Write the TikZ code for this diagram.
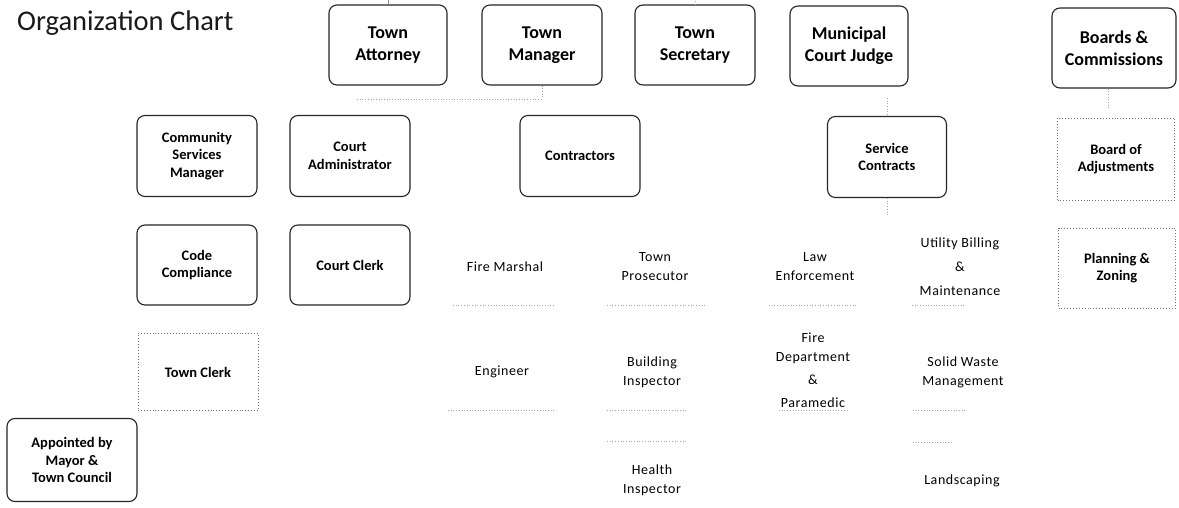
\documentclass[tikz,border=0pt]{standalone}
\usepackage{fontspec}
\setmainfont{Carlito}
\newfontfamily\itemfont[LetterSpace=4]{Carlito}
\begin{document}
\begin{tikzpicture}[x=1pt,y=-1pt,
  box/.style={draw=black!85, line width=1.1pt, rounded corners=8pt, inner sep=0pt, align=center, text=black},
  topbox/.style={box, minimum width=118pt, minimum height=80pt, font=\bfseries\fontsize{18}{22}\selectfont},
  midbox/.style={box, minimum width=120pt, minimum height=81pt, font=\bfseries\fontsize{14.5}{17.5}\selectfont},
  dotbox/.style={draw=black!55, dotted, line width=0.9pt, inner sep=0pt, align=center, minimum width=117pt, minimum height=80pt, font=\bfseries\fontsize{14.5}{17.5}\selectfont},
  item/.style={align=center, inner sep=0pt, minimum height=76pt, font=\itemfont\fontsize{14}{19}\selectfont},
  faint/.style={draw=black!35, dotted, line width=0.7pt},
  thinline/.style={draw=black!45, line width=0.6pt},
]
\useasboundingbox[fill=white] (0,0) rectangle (1179,508);

% title
\node[anchor=west, inner sep=0pt, font=\fontsize{28.5}{32}\selectfont, text=black!90] (title) at (17,23) {Organization Chart};

% top row
\node[topbox] (ta)  at (388,45) {Town\\Attorney};
\node[topbox, minimum width=120pt] (tm)  at (542,45) {Town\\Manager};
\node[topbox, minimum width=120pt] (ts)  at (695,45) {Town\\Secretary};
\node[topbox] (mcj) at (849,46) {Municipal\\Court Judge};
\node[topbox, minimum width=124pt] (bc)  at (1114,48) {Boards \&\\Commissions};

% second row
\node[midbox] (csm) at (197,156) {Community\\Services\\Manager};
\node[midbox] (ca)  at (350,156) {Court\\Administrator};
\node[midbox] (con) at (580,156) {Contractors};
\node[midbox, minimum width=119pt] (sc)  at (887,157) {Service\\Contracts};
\node[dotbox, minimum height=82pt] (boa) at (1116,159) {Board of\\Adjustments};

% third row
\node[midbox, minimum height=80pt] (cc)    at (197,265) {Code\\Compliance};
\node[midbox, minimum height=80pt] (clerk) at (350,265) {Court Clerk};
\node[item] (fm) at (505,267) {Fire Marshal};
\node[item] (tp) at (655,267) {Town\\Prosecutor};
\node[item] (le) at (815,267) {Law\\Enforcement};
\node[item] (ub) at (960,267) {Utility Billing\\[5pt]\&\\[5pt]Maintenance};
\node[dotbox] (pz) at (1117,268) {Planning \&\\Zoning};

% fourth row
\node[dotbox, minimum width=120pt, minimum height=77pt] (tc) at (198,372) {Town Clerk};
\node[item] (eng) at (502,372) {Engineer};
\node[item] (bi)  at (652,372) {Building\\Inspector};
\node[item, minimum height=80pt] (fd) at (813,370) {Fire\\Department\\[4pt]\&\\[4pt]Paramedic};
\node[item] (sw)  at (963,372) {Solid Waste\\Management};

% fifth row
\node[box, minimum width=130pt, minimum height=83pt, font=\bfseries\fontsize{14.5}{17.5}\selectfont] (app) at (72,460) {Appointed by\\Mayor \&\\Town Council};
\node[item] (hi)   at (652,480) {Health\\Inspector};
\node[item] (land) at (962,481) {Landscaping};

% faint remains of box edges
\draw[faint] ([xshift=-52pt]fm.south) -- ([xshift=50pt]fm.south);
\draw[faint] ([xshift=-48pt]tp.south) -- ([xshift=50pt]tp.south);
\draw[faint] ([xshift=-46pt]le.south) -- ([xshift=42pt]le.south);
\draw[faint] ([xshift=-48pt]ub.south) -- ([xshift=5pt]ub.south);
\draw[faint] ([xshift=-54pt]eng.south) -- ([xshift=54pt]eng.south);
\draw[faint] ([xshift=-45pt]bi.south) -- ([xshift=35pt]bi.south);
\draw[faint] ([xshift=-34pt]fd.south) -- ([xshift=34pt]fd.south);
\draw[faint] ([xshift=-50pt]sw.south) -- ([xshift=4pt]sw.south);
\draw[faint] ([xshift=-45pt]hi.north) -- ([xshift=35pt]hi.north);
\draw[faint] ([xshift=-49pt]land.north) -- ([xshift=-10pt]land.north);

% faint connectors
\coordinate (c0) at (388,0);
\coordinate (c1) at (695,0);
\coordinate (h1) at (357,99);
\coordinate (h2) at (542,99);
\coordinate (s1) at (887,98);
\coordinate (s2) at (887,216);
\coordinate (b1) at (1108,110);
\draw[thinline] (ta.north) -- (c0);
\draw[faint] (ts.north) -- (c1);
\draw[faint] (h1) -- (h2);
\draw[faint] (tm.south) -- (h2);
\draw[faint] (s1) -- (sc.north);
\draw[faint] (sc.south) -- (s2);
\draw[faint] (bc.south -| b1) -- (b1);
\end{tikzpicture}
\end{document}
